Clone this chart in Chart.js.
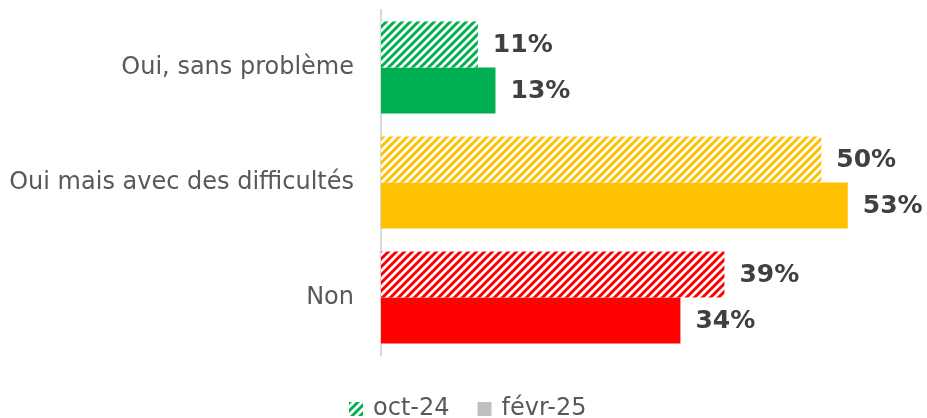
<!DOCTYPE html>
<html>
<head>
<meta charset="utf-8">
<script src="https://cdn.jsdelivr.net/npm/chart.js@4"></script>
<style>
  html, body { margin: 0; padding: 0; background: #fff; }
  #wrap { width: 927px; height: 418px; }
</style>
</head>
<body>
<div id="wrap"><canvas id="chart" width="927" height="418"></canvas></div>
<script>
const categories = ["Oui, sans problème", "Oui mais avec des difficultés", "Non"];
const seriesNames = ["oct-24", "févr-25"];
const oct24 = [11, 50, 39];
const fevr25 = [13, 53, 34];
const barColors = ["#00b050", "#ffc000", "#ff0000"];

const FONT = "'DejaVu Sans', sans-serif";

function hatch(color) {
    const c = document.createElement("canvas");
    c.width = 8;
    c.height = 8;
    const g = c.getContext("2d");
    g.fillStyle = "#ffffff";
    g.fillRect(0, 0, 8, 8);
    g.strokeStyle = color;
    g.lineWidth = 3;
    g.beginPath();
    g.moveTo(-2, 10); g.lineTo(10, -2);
    g.moveTo(-6, 6); g.lineTo(6, -6);
    g.moveTo(2, 14); g.lineTo(14, 2);
    g.stroke();
    return g.createPattern(c, "repeat");
}

const ctx = document.getElementById("chart").getContext("2d");
const hatched = barColors.map(hatch);

// value labels at bar ends
const valueLabels = {
    id: "valueLabels",
    afterDatasetsDraw(chart) {
        const c = chart.ctx;
        c.save();
        c.font = "bold 25px " + FONT;
        c.fillStyle = "#404040";
        c.textBaseline = "middle";
        chart.data.datasets.forEach((ds, i) => {
            chart.getDatasetMeta(i).data.forEach((bar, j) => {
                c.fillText(ds.data[j] + "%", bar.x + 15, bar.y + 1);
            });
        });
        c.restore();
    }
};

// simple legend under the plot
const bottomLegend = {
    id: "bottomLegend",
    afterDraw(chart) {
        const c = chart.ctx;
        const items = [
            { text: seriesNames[0], fill: hatch("#00b050") },
            { text: seriesNames[1], fill: "#bfbfbf" }
        ];
        c.save();
        c.font = "24px " + FONT;
        c.textBaseline = "middle";
        const box = 14, gap = 10, spacing = 28;
        let x = 349;
        const y = 409;
        items.forEach((it) => {
            c.fillStyle = it.fill;
            c.fillRect(x, y - box / 2, box, box);
            x += box + gap;
            c.fillStyle = "#595959";
            c.fillText(it.text, x, y);
            x += c.measureText(it.text).width + spacing;
        });
        c.restore();
    }
};

new Chart(ctx, {
    type: "bar",
    data: {
        labels: categories,
        datasets: [
            { label: seriesNames[0], data: oct24, backgroundColor: hatched, categoryPercentage: 0.8, barPercentage: 1.0 },
            { label: seriesNames[1], data: fevr25, backgroundColor: barColors, categoryPercentage: 0.8, barPercentage: 1.0 }
        ]
    },
    options: {
        indexAxis: "y",
        responsive: false,
        animation: false,
        layout: { padding: { top: 10, right: 0, bottom: 63, left: 0 } },
        scales: {
            x: {
                display: false,
                min: 0,
                max: 62
            },
            y: {
                grid: { display: false },
                border: { color: "#d9d9d9", width: 2 },
                ticks: {
                    color: "#595959",
                    padding: 19,
                    font: { size: 24, family: FONT }
                },
                afterFit(scale) {
                    scale.width = 381;
                    scale.paddingTop = 0;
                    scale.paddingBottom = 0;
                }
            }
        },
        plugins: {
            tooltip: { enabled: false },
            legend: { display: false }
        }
    },
    plugins: [valueLabels, bottomLegend]
});
</script>
</body>
</html>
